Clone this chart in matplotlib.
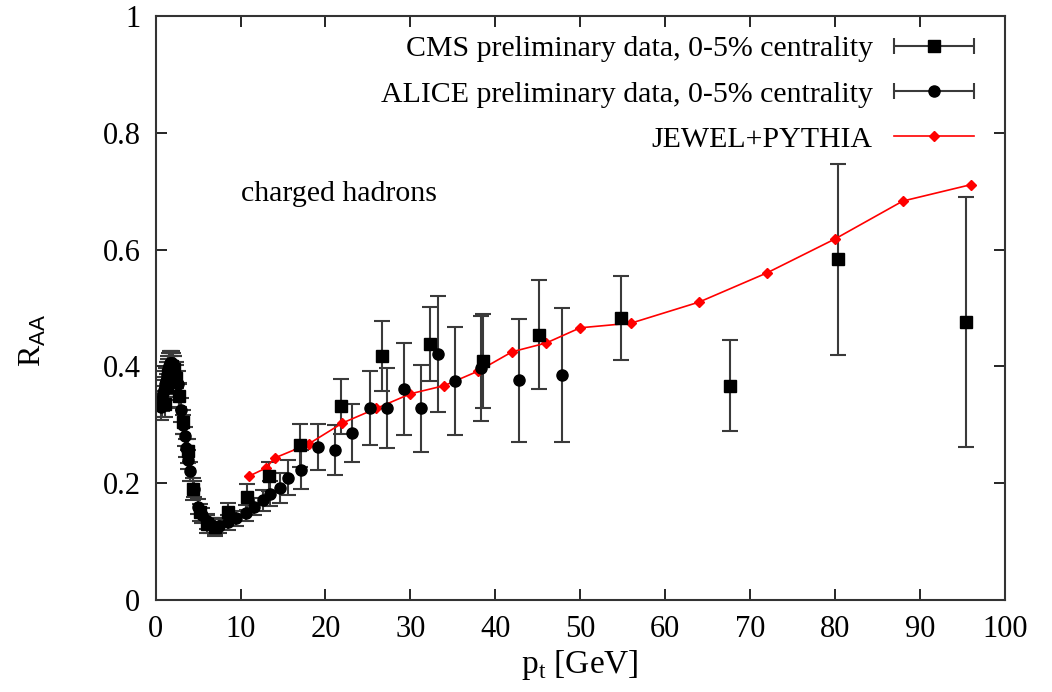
import numpy as np
import matplotlib
matplotlib.use('Agg')
import matplotlib.pyplot as plt
from matplotlib.ticker import FuncFormatter, MultipleLocator
from matplotlib.legend_handler import HandlerErrorbar
from matplotlib.container import ErrorbarContainer

# CMS preliminary, 0-5% centrality
cms_pt = [1.1, 1.3, 1.5, 1.7, 1.9, 2.1, 2.4, 2.8, 3.2, 3.8, 4.4, 5.2, 6.0, 7.0, 8.5,
          10.8, 13.3, 17.0, 21.8, 26.6, 32.3, 38.6, 45.1, 54.8, 67.7, 80.4, 95.5]
cms_raa = [0.335, 0.365, 0.385, 0.395, 0.40, 0.395, 0.38, 0.35, 0.305, 0.255, 0.19, 0.15, 0.13,
           0.125, 0.151, 0.176, 0.212, 0.265, 0.332, 0.418, 0.438, 0.409, 0.454, 0.483,
           0.367, 0.583, 0.476]
cms_err = [0.022, 0.022, 0.022, 0.022, 0.022, 0.022, 0.022, 0.022, 0.02, 0.02, 0.018, 0.015,
           0.015, 0.015, 0.015, 0.022, 0.025, 0.037, 0.047, 0.06, 0.063, 0.08, 0.093, 0.072,
           0.078, 0.164, 0.214]

# ALICE preliminary, 0-5% centrality
alice_pt = [0.6, 0.7, 0.8, 0.9, 1.0, 1.1, 1.2, 1.3, 1.4, 1.5, 1.6, 1.7, 1.8, 1.9, 2.0,
            2.2, 2.4, 2.6, 2.8, 3.0, 3.2, 3.4, 3.6, 3.8, 4.0, 4.5, 5.0, 5.5, 6.0, 6.5,
            7.0, 7.5, 8.5, 9.5, 10.6, 11.6, 12.6, 13.5, 14.6, 15.6, 17.1, 19.1, 21.1,
            23.1, 25.2, 27.2, 29.2, 31.2, 33.2, 35.3, 38.3, 42.8, 47.8]
alice_raa = [0.33, 0.335, 0.345, 0.355, 0.36, 0.37, 0.375, 0.385, 0.39, 0.395, 0.40, 0.405,
             0.405, 0.405, 0.40, 0.395, 0.385, 0.37, 0.35, 0.325, 0.30, 0.28, 0.26, 0.24,
             0.22, 0.19, 0.16, 0.145, 0.135, 0.128, 0.125, 0.127, 0.133, 0.14, 0.149,
             0.16, 0.171, 0.182, 0.192, 0.209, 0.223, 0.262, 0.257, 0.286, 0.329, 0.329,
             0.361, 0.328, 0.421, 0.375, 0.397, 0.376, 0.385]
alice_err = [0.022, 0.022, 0.022, 0.022, 0.022, 0.022, 0.022, 0.022, 0.022, 0.022, 0.022,
             0.022, 0.022, 0.022, 0.022, 0.022, 0.022, 0.022, 0.02, 0.02, 0.016, 0.016,
             0.016, 0.016, 0.016, 0.013, 0.013, 0.013, 0.013, 0.013, 0.013, 0.013, 0.013,
             0.013, 0.013, 0.015, 0.018, 0.021, 0.026, 0.03, 0.033, 0.04, 0.043, 0.05,
             0.063, 0.068, 0.079, 0.075, 0.1, 0.093, 0.09, 0.105, 0.115]

# JEWEL+PYTHIA
jewel_pt = [11, 13, 14, 18, 22, 26, 30, 34, 38, 42, 46, 50, 56, 64, 72, 80, 88, 96]
jewel_raa = [0.212, 0.226, 0.243, 0.267, 0.303, 0.328, 0.353, 0.367, 0.392, 0.425, 0.44,
             0.466, 0.474, 0.51, 0.56, 0.618, 0.683, 0.711]

plt.rcParams['font.family'] = ['Liberation Serif', 'DejaVu Serif']
plt.rcParams['mathtext.fontset'] = 'custom'
plt.rcParams['mathtext.rm'] = 'Liberation Serif'
plt.rcParams['mathtext.sf'] = 'Liberation Sans'
fs = 22

fig = plt.figure(figsize=(10.52, 6.92), dpi=100)
ax = fig.add_axes([0.148, 0.133, 0.807, 0.844])

ecol = '#3a3a3a'
ebar = dict(ecolor=ecol, elinewidth=1.5, capsize=5.5, capthick=1.5)
cms = ax.errorbar(cms_pt, cms_raa, yerr=cms_err, fmt='s', color='black', ms=9, **ebar)
alice = ax.errorbar(alice_pt, alice_raa, yerr=alice_err, fmt='o', color='black', ms=8, **ebar)
jewel, = ax.plot(jewel_pt, jewel_raa, '-D', color='red', ms=5, lw=1.2)

# legend proxies: gnuplot style horizontal bars
cms_key = ax.errorbar([np.nan], [np.nan], xerr=[np.nan], fmt='s', color='black', ms=9, **ebar)
alice_key = ax.errorbar([np.nan], [np.nan], xerr=[np.nan], fmt='o', color='black', ms=8, **ebar)

ax.text(10.1, 0.695, 'charged hadrons', fontsize=21.5, va='center')

ax.set_xlim(0, 100)
ax.set_ylim(0, 1)
ax.xaxis.set_major_locator(MultipleLocator(10))
ax.yaxis.set_major_locator(MultipleLocator(0.2))
ax.yaxis.set_major_formatter(FuncFormatter(lambda v, p: '%g' % round(v, 2)))
ax.tick_params(direction='in', length=8, width=1.2, top=True, right=True,
               labelsize=fs, pad=11, colors='black')
for s in ax.spines.values():
    s.set_linewidth(1.5)
    s.set_color('#333333')

ax.set_xlabel(r'p$_{\rm t}$ [GeV]', fontsize=24, labelpad=3)
ax.set_ylabel(r'R$_{\mathsf{AA}}$', fontsize=23)
ax.yaxis.set_label_coords(-0.127, 0.445)

hmap = {ErrorbarContainer: HandlerErrorbar(xerr_size=1.35)}
leg = ax.legend([cms_key, alice_key, jewel],
                ['CMS preliminary data, 0-5% centrality',
                 'ALICE preliminary data, 0-5% centrality',
                 'JEWEL+PYTHIA'],
                loc='upper right', bbox_to_anchor=(0.996, 1.013), frameon=False,
                markerfirst=False, fontsize=21.5, handlelength=2.7, numpoints=1,
                labelspacing=0.62, handletextpad=0.7, handler_map=hmap)

fig.savefig('out.png', dpi=100)
